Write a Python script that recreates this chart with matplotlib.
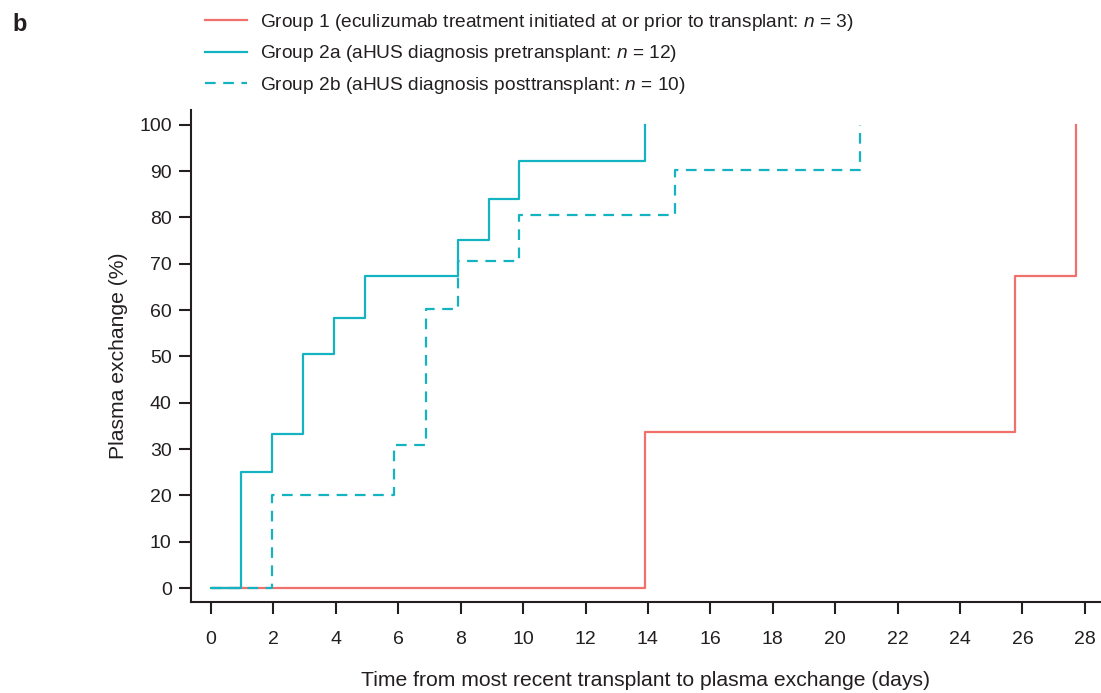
import matplotlib.pyplot as plt

plt.rcParams['font.family'] = ['Liberation Sans', 'DejaVu Sans']
plt.rcParams['mathtext.fontset'] = 'custom'
plt.rcParams['mathtext.it'] = 'Liberation Sans:italic'
plt.rcParams['mathtext.rm'] = 'Liberation Sans'

# cumulative % of patients who had plasma exchange, by day after transplant
g1_days = [0.05, 13.9, 25.75, 27.72]
g1_pct = [0, 33.7, 67.4, 100]

g2a_days = [0, 0.96, 1.96, 2.95, 3.95, 4.94, 7.92, 8.9, 9.86, 13.9]
g2a_pct = [0, 25, 33.3, 50.5, 58.3, 67.3, 75.2, 84, 92.2, 100]

g2b_days = [0, 1.95, 5.87, 6.9, 7.92, 9.87, 14.86, 20.8]
g2b_pct = [0, 20, 30.9, 60.3, 70.5, 80.6, 90.3, 100]

labels = [
    'Group 1 (eculizumab treatment initiated at or prior to transplant: $n$ = 3)',
    'Group 2a (aHUS diagnosis pretransplant: $n$ = 12)',
    'Group 2b (aHUS diagnosis posttransplant: $n$ = 10)',
]

red = '#f0716c'
teal = '#13b3c2'
ink = '#231f20'

fig = plt.figure(figsize=(11.01, 6.93), dpi=100)
ax = fig.add_axes([0.1735, 0.1313, 0.826, 0.71])

ax.step(g1_days, g1_pct, where='post', color=red, lw=1.6, label=labels[0])
ax.step(g2a_days, g2a_pct, where='post', color=teal, lw=1.6, label=labels[1])
ax.step(g2b_days, g2b_pct, where='post', color=teal, lw=1.6,
        dashes=(4.8, 3.4), label=labels[2])

ax.set_xlim(-0.64, 28.5)
ax.set_ylim(-3, 103.2)
ax.set_xticks(range(0, 29, 2))
ax.set_yticks(range(0, 101, 10))

for side in ('top', 'right'):
    ax.spines[side].set_visible(False)
for side in ('left', 'bottom'):
    ax.spines[side].set_linewidth(1.5)
    ax.spines[side].set_color(ink)

ax.tick_params(axis='x', length=8.6, width=1.5, pad=12, labelsize=14,
               color=ink, labelcolor=ink)
ax.tick_params(axis='y', length=8.4, width=1.5, pad=5.5, labelsize=14,
               color=ink, labelcolor=ink)

ax.set_xlabel('Time from most recent transplant to plasma exchange (days)',
              fontsize=15.2, color=ink, labelpad=17)
ax.set_ylabel('Plasma exchange (%)', fontsize=15.2, color=ink, labelpad=8)

fig.legend(loc='upper left', bbox_to_anchor=(0.1705, 1.008), frameon=False,
           fontsize=13.8, handlelength=2.2, handletextpad=0.65,
           labelspacing=0.55, labelcolor=ink)

fig.text(0.011, 0.965, 'b', fontsize=17, fontweight='bold', color=ink,
         va='center')

fig.savefig('out.png', dpi=100)
